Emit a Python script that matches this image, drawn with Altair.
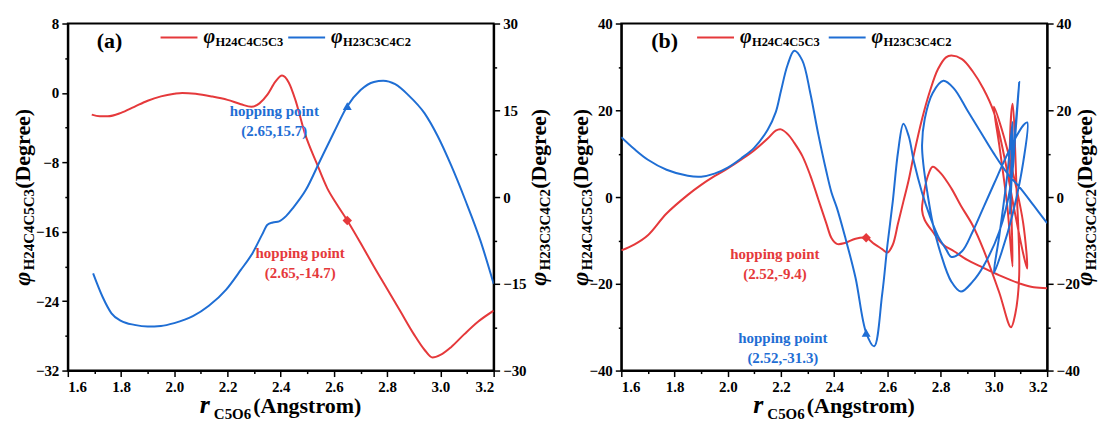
import altair as alt
import pandas as pd

# ---------------- data: panel (a) ----------------
a_red_r = [1.69, 1.72, 1.75, 1.80, 1.85, 1.90, 1.95, 2.00, 2.03, 2.08, 2.14, 2.20, 2.25, 2.29,
           2.32, 2.35, 2.38, 2.405, 2.43, 2.455, 2.49, 2.535, 2.575, 2.61, 2.65, 2.70, 2.75,
           2.80, 2.85, 2.90, 2.94, 2.97, 3.00, 3.04, 3.09, 3.14, 3.20]
a_red_phi = [-2.5, -2.7, -2.7, -2.3, -1.6, -0.9, -0.4, -0.1, 0.0, -0.1, -0.4, -0.8, -1.3, -1.6,
             -1.2, -0.2, 1.3, 2.0, 1.2, -0.8, -4.6, -8.1, -11.0, -12.8, -14.7, -17.3, -20.0,
             -22.6, -25.2, -27.8, -29.6, -30.5, -30.2, -29.3, -27.8, -26.4, -25.1]
a_blue_r = [1.695, 1.73, 1.764, 1.80, 1.85, 1.90, 1.95, 2.00, 2.07, 2.13, 2.195, 2.25, 2.294,
            2.33, 2.35, 2.37, 2.394, 2.42, 2.444, 2.494, 2.55, 2.60, 2.65, 2.70, 2.75, 2.785,
            2.83, 2.88, 2.94, 2.99, 3.04, 3.094, 3.15, 3.20]
a_blue_phi = [-13.2, -17.2, -20.1, -21.4, -22.1, -22.4, -22.3, -21.8, -20.6, -18.8, -16.0, -12.6,
              -9.7, -6.5, -4.8, -4.4, -4.2, -3.3, -2.0, 1.2, 6.5, 11.2, 15.7, 18.5, 19.9, 20.1,
              19.5, 17.6, 14.5, 10.5, 5.5, -0.6, -7.5, -15.0]
a_hop_r = [2.65]
a_hop_red = [-14.7]
a_hop_blue = [15.7]

# ---------------- data: panel (b) (trajectory order) ----------------
b_r = [1.60, 1.65, 1.70, 1.77, 1.85, 1.90, 1.95, 2.00, 2.05, 2.10, 2.15, 2.18, 2.20, 2.225,
       2.25, 2.28, 2.31, 2.34, 2.37, 2.39, 2.41, 2.44, 2.48, 2.52, 2.55, 2.58, 2.60, 2.62,
       2.64, 2.66, 2.68, 2.70, 2.73, 2.76, 2.79, 2.82, 2.84, 2.88, 2.92, 2.96, 3.00, 3.04,
       3.08, 3.11, 3.125, 3.11, 3.07, 3.03, 3.00, 3.02, 3.05, 3.07, 3.065, 3.06, 3.07, 3.085,
       3.095, 3.08, 3.064, 3.02, 2.96, 2.92, 2.876, 2.84, 2.80, 2.77, 2.75, 2.735, 2.73, 2.74,
       2.77, 2.81, 2.85, 2.90, 2.95, 3.00, 3.05, 3.10, 3.15, 3.20]
b_red = [-12.3, -10.9, -8.8, -3.8, 0.5, 2.8, 4.8, 6.6, 8.6, 10.8, 13.5, 15.3, 15.6, 14.5,
         12.5, 9.5, 5.0, -0.5, -6.0, -9.5, -10.8, -10.6, -9.6, -9.4, -10.8, -12.0, -12.8, -11.0,
         -6.0, -1.0, 4.0, 10.0, 18.0, 24.5, 29.5, 32.2, 32.6, 31.8, 29.0, 25.0, 19.5, 9.0,
         -4.0, -13.0, -16.5, -6.0, 6.0, 15.5, 20.8, 12.0, -2.0, -16.0, -2.0, 12.0, 21.5, 2.0,
         -18.0, -27.0, -30.0, -22.0, -12.0, -6.5, -2.0, 2.0, 5.5, 7.0, 4.5, 0.0, -3.0, -5.3,
         -8.0, -11.0, -12.5, -14.5, -16.0, -17.5, -18.8, -20.0, -20.8, -21.0]
b_blue = [13.8, 11.0, 8.6, 6.3, 4.9, 4.7, 5.4, 6.8, 8.9, 11.4, 15.5, 19.5, 24.5, 30.5,
          33.7, 31.5, 24.0, 14.5, 6.0, 1.0, -2.5, -9.0, -18.6, -31.3, -34.4, -22.5, -11.0, -1.0,
          10.5, 16.9, 14.0, 8.0, 1.0, -4.5, -9.0, -12.0, -13.8, -12.5, -8.0, -2.5, 3.0, 8.5,
          13.5, 16.5, 17.2, 8.0, -4.0, -12.5, -17.5, -9.0, 5.0, 17.3, 6.0, -4.0, 8.0, 19.0,
          26.5, 14.0, 3.0, -8.0, -16.0, -19.5, -21.8, -19.5, -13.0, -6.0, 1.0, 7.5, 12.0, 18.0,
          24.0, 26.8, 25.0, 20.0, 15.0, 10.0, 5.5, 2.0, -2.0, -6.0]
b_hop_r = [2.52]
b_hop_red = [-9.4]
b_hop_blue = [-31.3]

# ---------------- ticks and texts ----------------
x_ticks = [1.6, 1.7, 1.8, 1.9, 2.0, 2.1, 2.2, 2.3, 2.4, 2.5, 2.6, 2.7, 2.8, 2.9, 3.0, 3.1, 3.2]
a_left_ticks = [-32, -28, -24, -20, -16, -12, -8, -4, 0, 4, 8]
a_right_ticks = [-30, -22.5, -15, -7.5, 0, 7.5, 15, 22.5, 30]
b_ticks = [-40, -30, -20, -10, 0, 10, 20, 30, 40]
sub_red = "H24C4C5C3"
sub_blue = "H23C3C4C2"
hop_a_blue = ["hopping point", "(2.65,15.7)"]
hop_a_red = ["hopping point", "(2.65,-14.7)"]
hop_b_red = ["hopping point", "(2.52,-9.4)"]
hop_b_blue = ["hopping point", "(2.52,-31.3)"]

RED = "#E5393B"
BLUE = "#1F6ED4"
FONT = "Liberation Serif, Times New Roman, DejaVu Serif, serif"
W, H = 427, 348
ONE = pd.DataFrame({"k": [0]})

TNR = {'(': 333, ')': 333, 'A': 722, 'n': 556, 'g': 500, 's': 389, 't': 333, 'r': 444,
       'o': 500, 'm': 833, 'D': 722, 'e': 444, 'C': 722, 'O': 778, 'H': 778}


def tw(s, size):
    return sum(TNR.get(c, 500) for c in s) * size / 1000.0


def text_at(s, x, y, size, italic=False, angle=None, align="left", baseline="alphabetic",
            color="black"):
    kw = dict(text=s, font=FONT, fontSize=size, fontWeight="bold", align=align,
              baseline=baseline, color=color)
    if italic:
        kw["fontStyle"] = "italic"
    if angle is not None:
        kw["angle"] = angle
    return alt.Chart(ONE).mark_text(**kw).encode(x=alt.value(x), y=alt.value(y))


def x_title():
    wr = 0.389 * 26
    ws = tw("C5O6", 15)
    wa = tw("(Angstrom)", 22)
    gap1, gap2 = 4, 2
    x0 = W / 2 - (wr + gap1 + ws + gap2 + wa) / 2
    return [text_at("r", x0, 391, 26, italic=True),
            text_at("C5O6", x0 + wr + gap1, 397, 15),
            text_at("(Angstrom)", x0 + wr + gap1 + ws + gap2, 391, 22)]


def y_title(sub, xb):
    wp = 0.56 * 24
    ws = tw(sub, 15)
    wd = tw("(Degree)", 22)
    gap = 2
    y0 = H / 2 + (wp + gap + ws + wd) / 2
    return [text_at("φ", xb, y0, 24, italic=True, angle=270),
            text_at(sub, xb + 4, y0 - wp - gap, 15, angle=270),
            text_at("(Degree)", xb, y0 - wp - gap - ws, 22, angle=270)]


def legend(xr, xb):
    out = []
    for x0, col, sub in [(xr, RED, sub_red), (xb, BLUE, sub_blue)]:
        out.append(alt.Chart(ONE).mark_rule(color=col, strokeWidth=2).encode(
            x=alt.value(x0), x2=alt.value(x0 + 37), y=alt.value(14)))
        out.append(text_at("φ", x0 + 43, 20, 20, italic=True))
        out.append(text_at(sub, x0 + 55, 23, 12.5))
    return out


def hop(lines, xc, y1, col):
    return [text_at(lines[0], xc, y1, 15, align="center", baseline="middle", color=col),
            text_at(lines[1], xc, y1 + 20, 15, align="center", baseline="middle", color=col)]


def major_axis(values, test, fmt, orient):
    return alt.Axis(values=values, orient=orient, title=None, grid=False,
                    labelExpr=f"({test}) ? format(datum.value, '{fmt}') : ''",
                    tickSize={"condition": {"test": test, "value": 6}, "value": 3},
                    labelPadding=3)


xtest = "round(datum.value*10) % 2 == 0"
x_axis = major_axis(x_ticks, xtest, ".1f", "bottom")
x_enc = dict(scale=alt.Scale(domain=[1.6, 3.2], nice=False, zero=False), axis=x_axis)

# ---------------- panel (a) ----------------
df_a_red = pd.DataFrame({"r": a_red_r, "phi": a_red_phi})
df_a_blue = pd.DataFrame({"r": a_blue_r, "phi": a_blue_phi})
df_a_hop = pd.DataFrame({"r": a_hop_r, "red": a_hop_red, "blue": a_hop_blue})

ya_left = alt.Scale(domain=[-32, 8], nice=False, zero=False)
ya_right = alt.Scale(domain=[-30, 30], nice=False, zero=False)
ax_a_left = major_axis(a_left_ticks, "datum.value % 8 == 0", "d", "left")
ax_a_right = major_axis(a_right_ticks, "datum.value % 15 == 0", "d", "right")

a_left = alt.layer(
    alt.Chart(df_a_red).mark_line(color=RED, strokeWidth=2, interpolate="monotone", clip=True)
    .encode(x=alt.X("r:Q", **x_enc), y=alt.Y("phi:Q", scale=ya_left, axis=ax_a_left)),
    alt.Chart(df_a_hop).mark_point(shape="diamond", filled=True, size=90, color=RED, opacity=1)
    .encode(x=alt.X("r:Q", **x_enc), y=alt.Y("red:Q", scale=ya_left, axis=ax_a_left)),
)
a_right = alt.layer(
    alt.Chart(df_a_blue).mark_line(color=BLUE, strokeWidth=2, interpolate="monotone", clip=True)
    .encode(x=alt.X("r:Q", **x_enc), y=alt.Y("phi:Q", scale=ya_right, axis=ax_a_right)),
    alt.Chart(df_a_hop).mark_point(shape="triangle-up", filled=True, size=80, color=BLUE, opacity=1)
    .encode(x=alt.X("r:Q", **x_enc), y=alt.Y("blue:Q", scale=ya_right, axis=ax_a_right)),
)
panel_a = alt.layer(
    a_left, a_right,
    *legend(93, 221),
    text_at("(a)", 29, 25, 22),
    *hop(hop_a_blue, 207, 88, BLUE),
    *hop(hop_a_red, 233, 230, RED),
    *x_title(),
    *y_title(sub_red, -38),
    *y_title(sub_blue, 479),
).resolve_scale(y="independent").properties(width=W, height=H)

# ---------------- panel (b) ----------------
df_b = pd.DataFrame({"t": list(range(len(b_r))), "r": b_r, "red": b_red, "blue": b_blue})
df_b_hop = pd.DataFrame({"r": b_hop_r, "red": b_hop_red, "blue": b_hop_blue})
yb = alt.Scale(domain=[-40, 40], nice=False, zero=False)
ax_b_left = major_axis(b_ticks, "datum.value % 20 == 0", "d", "left")
ax_b_right = major_axis(b_ticks, "datum.value % 20 == 0", "d", "right")

b_left = alt.layer(
    alt.Chart(df_b).mark_line(color=RED, strokeWidth=2, interpolate="catmull-rom", clip=True)
    .encode(x=alt.X("r:Q", **x_enc), y=alt.Y("red:Q", scale=yb, axis=ax_b_left),
            order=alt.Order("t:Q")),
    alt.Chart(df_b_hop).mark_point(shape="diamond", filled=True, size=90, color=RED, opacity=1)
    .encode(x=alt.X("r:Q", **x_enc), y=alt.Y("red:Q", scale=yb, axis=ax_b_left)),
)
b_right = alt.layer(
    alt.Chart(df_b).mark_line(color=BLUE, strokeWidth=2, interpolate="catmull-rom", clip=True)
    .encode(x=alt.X("r:Q", **x_enc), y=alt.Y("blue:Q", scale=yb, axis=ax_b_right),
            order=alt.Order("t:Q")),
    alt.Chart(df_b_hop).mark_point(shape="triangle-up", filled=True, size=80, color=BLUE, opacity=1)
    .encode(x=alt.X("r:Q", **x_enc), y=alt.Y("blue:Q", scale=yb, axis=ax_b_right)),
)
panel_b = alt.layer(
    b_left, b_right,
    *legend(76, 208),
    text_at("(b)", 30, 25, 22),
    *hop(hop_b_red, 154, 231, RED),
    *hop(hop_b_blue, 162, 315, BLUE),
    *x_title(),
    *y_title(sub_red, -33),
    *y_title(sub_blue, 472),
).resolve_scale(y="independent").properties(width=W, height=H)

chart = alt.hconcat(panel_a, panel_b, spacing=15).properties(
    padding={"left": 10, "top": 15, "right": 0, "bottom": 0},
    background="white",
).configure_view(stroke="black", strokeWidth=2).configure_axis(
    domainColor="black", domainWidth=2, tickColor="black", tickWidth=1.5,
    labelColor="black", labelFont=FONT, labelFontSize=15, labelFontWeight="bold",
)

chart.save("out.html", embed_options={"renderer": "svg", "actions": False})
